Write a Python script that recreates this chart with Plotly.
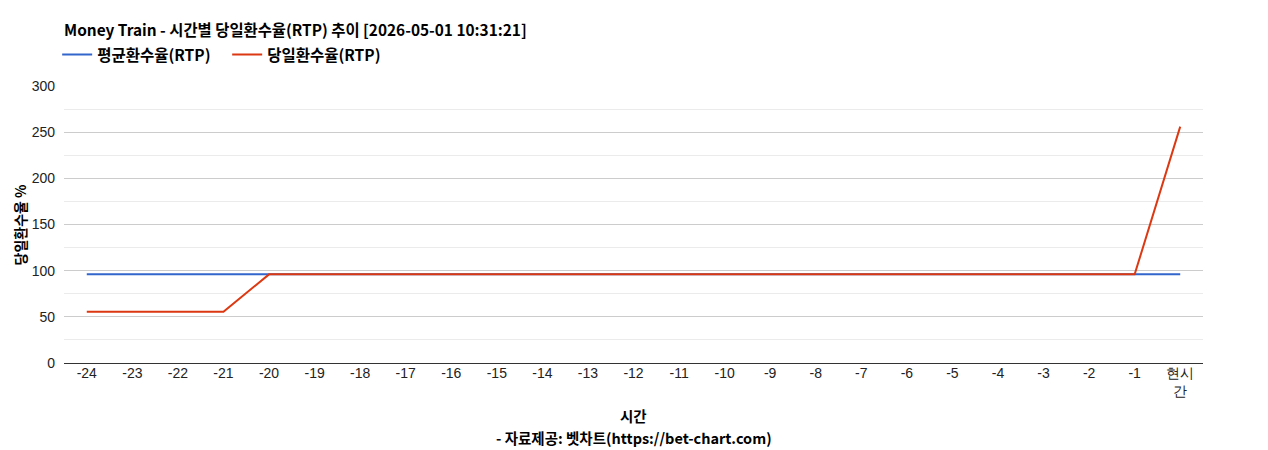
import plotly.graph_objects as go

# data
hours = [str(h) for h in range(-24, 0)] + ['현시간']
tick_labels = [str(h) for h in range(-24, 0)] + ['현시<br>간']
avg_rtp = [96.0] * 25
day_rtp = [55.4, 55.4, 55.4, 55.4] + [96.0] * 20 + [256.0]

KFONT = 'Noto Sans CJK KR'
TFONT = 'Liberation Sans'

# page body has an 8px margin, so the figure is a bit smaller than the window
W, H = 1260, 442
PW, PH = 1139, 277

fig = go.Figure()
fig.add_trace(go.Scatter(
    x=hours, y=avg_rtp, name='평균환수율(RTP)', mode='lines',
    line=dict(color='#3366cc', width=2),
))
fig.add_trace(go.Scatter(
    x=hours, y=day_rtp, name='당일환수율(RTP)', mode='lines',
    line=dict(color='#dc3912', width=2),
))

fig.update_layout(
    width=W, height=H,
    margin=dict(l=56, r=65, t=78, b=87),
    paper_bgcolor='white', plot_bgcolor='white',
    title=dict(
        text='<b>Money Train - 시간별 당일환수율(RTP) 추이 [2026-05-01 10:31:21]</b>',
        x=0, xref='paper', xanchor='left',
        y=1 - 23 / H, yref='container', yanchor='middle',
        font=dict(family=KFONT, size=15.4, color='#000'),
    ),
    legend=dict(
        orientation='h', x=-0.006, xanchor='left', y=1 + 31 / PH, yanchor='middle',
        font=dict(family=KFONT, size=15.5, color='#000', weight='bold'),
        itemwidth=30, tracegroupgap=0, entrywidth=125,
    ),
    showlegend=True,
    xaxis=dict(
        type='category', range=[-0.5, 24.5],
        tickmode='array', tickvals=hours, ticktext=tick_labels,
        tickfont=dict(family=TFONT, size=14, color='#222'),
        showgrid=False, showline=False, ticks='',
        fixedrange=True,
    ),
    yaxis=dict(
        range=[0, 300], dtick=50, tick0=0,
        tickfont=dict(family=TFONT, size=14, color='#222'),
        gridcolor='#cccccc', gridwidth=1,
        zeroline=True, zerolinecolor='#333333', zerolinewidth=1,
        minor=dict(dtick=25, showgrid=True, gridcolor='#ebebeb', gridwidth=1),
        ticklabelstandoff=8,
        fixedrange=True,
    ),
    annotations=[
        dict(text='<b>시간</b>', xref='paper', yref='paper', x=0.5, y=-52 / PH,
             xanchor='center', yanchor='middle', showarrow=False,
             font=dict(family=KFONT, size=14.5, color='#000')),
        dict(text='<b>- 자료제공: 벳차트(https://bet-chart.com)</b>', xref='paper', yref='paper',
             x=0.5, y=-74 / PH, xanchor='center', yanchor='middle', showarrow=False,
             font=dict(family=KFONT, size=14.5, color='#000')),
        dict(text='<b>당일환수율 %</b>', xref='paper', yref='paper', x=-45 / PW, y=0.5,
             xanchor='center', yanchor='middle', textangle=-90, showarrow=False,
             font=dict(family=KFONT, size=14, color='#000')),
    ],
)

fig.write_html('out.html')
